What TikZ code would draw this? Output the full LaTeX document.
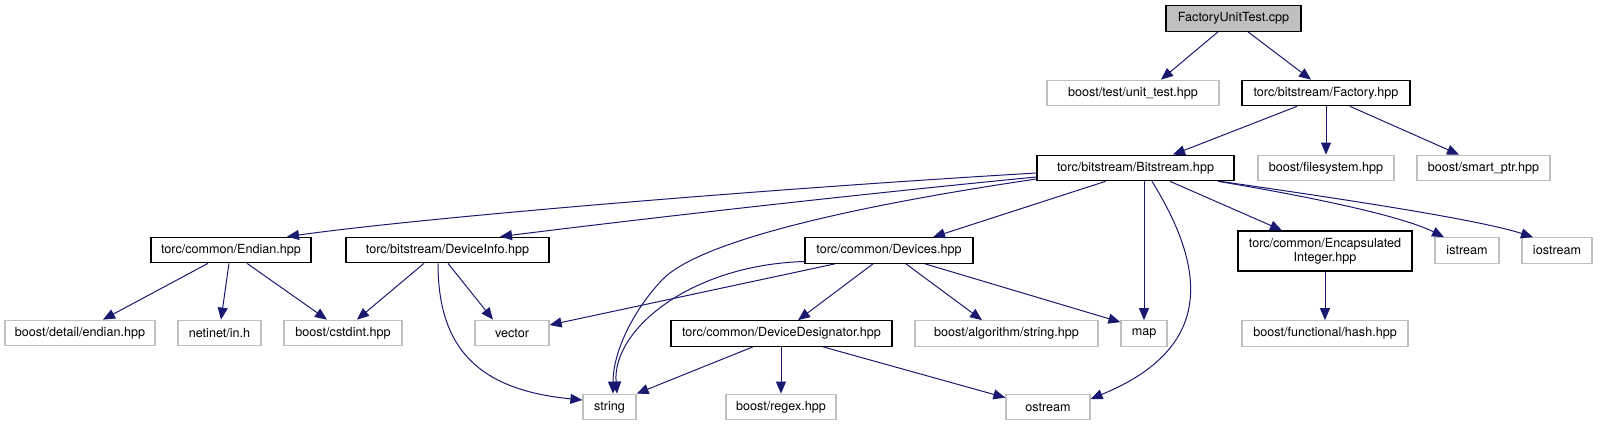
\documentclass[tikz,border=0pt]{standalone}
\usepackage{fontspec}
\setmainfont{TeX Gyre Heros}
\usetikzlibrary{arrows.meta}
\definecolor{edgecol}{HTML}{191970}
\definecolor{graybd}{HTML}{BFBFBF}
\begin{document}
\begin{tikzpicture}[x=1pt,y=-1pt,
  box/.style={draw=black, line width=1.2pt, minimum height=25.5pt, inner sep=0pt, font=\fontsize{12.6}{14}\selectfont, text=black},
  gbox/.style={box, draw=graybd},
  edge/.style={draw=edgecol, line width=1pt, -{Triangle[length=12pt,width=10pt]}}]
\useasboundingbox (0,0) rectangle (1615,427);
% nodes
\node[box, fill=graybd, minimum width=135pt] (fut) at (1233.5,18.5) {FactoryUnitTest.cpp};
\node[gbox, minimum width=172pt] (unittest) at (1133,93) {boost/test/unit\_test.hpp};
\node[box, minimum width=168pt] (factory) at (1326,93) {torc/bitstream/Factory.hpp};
\node[box, minimum width=197pt] (bitstream) at (1135.5,168) {torc/bitstream/Bitstream.hpp};
\node[gbox, minimum width=136pt] (filesystem) at (1326,168) {boost/filesystem.hpp};
\node[gbox, minimum width=133pt] (smartptr) at (1483.5,168) {boost/smart\_ptr.hpp};
\node[box, minimum width=160pt] (endian) at (231,250) {torc/common/Endian.hpp};
\node[box, minimum width=203pt] (deviceinfo) at (447.5,250) {torc/bitstream/DeviceInfo.hpp};
\node[box, minimum width=168pt] (devices) at (889,250.5) {torc/common/Devices.hpp};
\node[box, minimum width=174pt, minimum height=40pt, align=center] (encap) at (1325,251) {torc/common/Encapsulated\\Integer.hpp};
\node[gbox, minimum width=64pt] (istream) at (1467,250.5) {istream};
\node[gbox, minimum width=70pt] (iostream) at (1557,250.5) {iostream};
\node[gbox, minimum width=150pt] (detail) at (80,333) {boost/detail/endian.hpp};
\node[gbox, minimum width=83pt] (netinet) at (219.5,333) {netinet/in.h};
\node[gbox, minimum width=118pt] (cstdint) at (343,333) {boost/cstdint.hpp};
\node[gbox, minimum width=74pt] (vector) at (512,333) {vector};
\node[box, minimum width=221pt] (devdesig) at (781.5,333.5) {torc/common/DeviceDesignator.hpp};
\node[gbox, minimum width=183pt] (algstring) at (1006.5,333.5) {boost/algorithm/string.hpp};
\node[gbox, minimum width=46pt] (map) at (1144,333.5) {map};
\node[gbox, minimum width=166pt] (hash) at (1325,333.5) {boost/functional/hash.hpp};
\node[gbox, minimum width=53pt] (string) at (609.5,407) {string};
\node[gbox, minimum width=110pt] (regex) at (781,407) {boost/regex.hpp};
\node[gbox, minimum width=84pt] (ostream) at (1048,407) {ostream};
% edges
\draw[edge] ([xshift=-15.5pt]fut.south) -- ([xshift=28pt]unittest.north);
\draw[edge] ([xshift=14.5pt]fut.south) -- ([xshift=-15pt]factory.north);
\draw[edge] ([xshift=-29pt]factory.south) -- ([xshift=37.5pt]bitstream.north);
\draw[edge] (factory.south) -- (filesystem.north);
\draw[edge] ([xshift=24pt]factory.south) -- ([xshift=-24.5pt]smartptr.north);
\draw[edge] ([yshift=-5pt]bitstream.west) .. controls (750,190) and (420,218) .. ([xshift=56pt]endian.north);
\draw[edge] ([yshift=-9pt]bitstream.west) .. controls (820,198) and (600,224) .. ([xshift=52.5pt]deviceinfo.north);
\draw[edge] ([yshift=-11pt]bitstream.west) .. controls (860,205) and (700,240) .. (662,280) .. controls (630,314) and (613,355) .. ([xshift=3.5pt]string.north);
\draw[edge] ([xshift=-30pt]bitstream.south) -- ([xshift=44pt]devices.north);
\draw[edge] ([xshift=8.5pt]bitstream.south) -- (map.north);
\draw[edge] ([xshift=16.5pt]bitstream.south) .. controls (1210,275) and (1210,350) .. ([yshift=8pt]ostream.east);
\draw[edge] ([xshift=34.5pt]bitstream.south) -- ([xshift=-43pt]encap.north);
\draw[edge] ([xshift=82.5pt]bitstream.south) .. controls (1300,195) and (1400,215) .. ([xshift=-23pt]istream.north);
\draw[edge] ([xshift=84.5pt]bitstream.south) .. controls (1350,200) and (1480,220) .. ([xshift=-24pt]iostream.north);
\draw[edge] ([xshift=-23pt]endian.south) -- ([xshift=23pt]detail.north);
\draw[edge] ([xshift=-2pt]endian.south) -- ([xshift=1.5pt]netinet.north);
\draw[edge] ([xshift=16pt]endian.south) -- ([xshift=-16pt]cstdint.north);
\draw[edge] ([xshift=-23.5pt]deviceinfo.south) -- ([xshift=14pt]cstdint.north);
\draw[edge] ([xshift=0.5pt]deviceinfo.south) -- ([xshift=-19pt]vector.north);
\draw[edge] ([xshift=-9.5pt]deviceinfo.south) .. controls (438,350) and (480,390) .. ([yshift=7pt]string.west);
\draw[edge] ([xshift=-54pt]devices.south) -- ([yshift=8pt]vector.east);
\draw[edge] ([yshift=-11pt]devices.west) .. controls (690,265) and (612,330) .. ([xshift=7.5pt]string.north);
\draw[edge] ([xshift=-16pt]devices.south) -- ([xshift=16.5pt]devdesig.north);
\draw[edge] ([xshift=17pt]devices.south) -- ([xshift=-24.5pt]algstring.north);
\draw[edge] ([xshift=36pt]devices.south) -- ([yshift=-2pt]map.north west);
\draw[edge] ([xshift=-28.5pt]devdesig.south) -- (string.north east);
\draw[edge] ([xshift=-0.5pt]devdesig.south) -- (regex.north);
\draw[edge] ([xshift=41.5pt]devdesig.south) -- ([yshift=-4pt]ostream.north west);
\draw[edge] (encap.south) -- (hash.north);
\end{tikzpicture}
\end{document}
